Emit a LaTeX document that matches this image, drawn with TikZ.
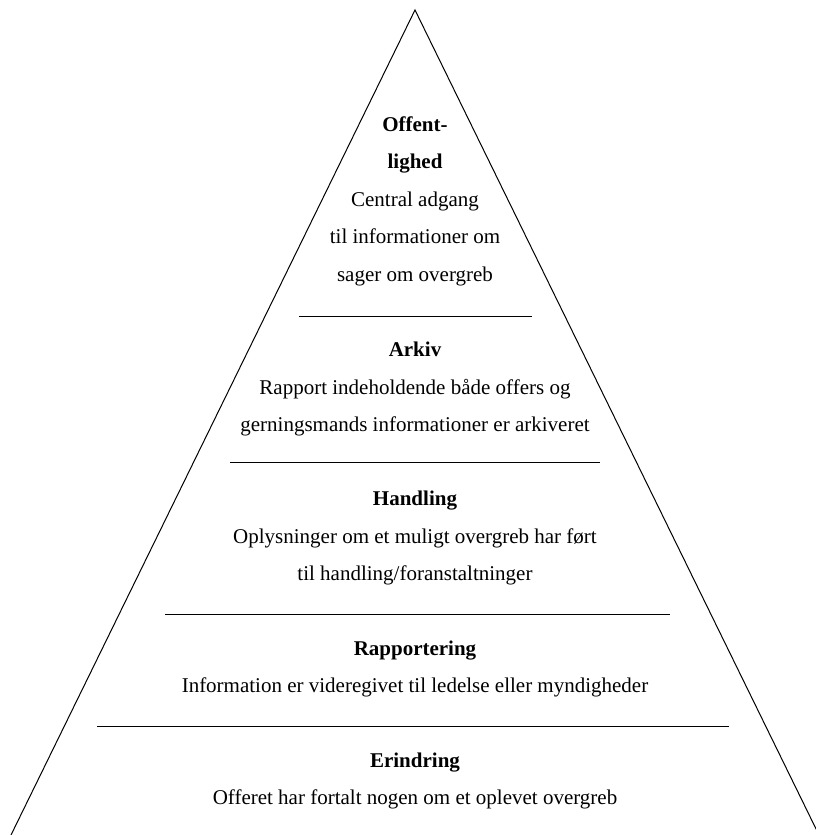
\documentclass[tikz,border=0pt]{standalone}
\usepackage{fontspec}
\setmainfont{Liberation Serif}

\begin{document}
\begin{tikzpicture}[x=1pt, y=-1pt, line width=1pt]
		\tikzstyle{every node}=[align=center,inner sep=0pt,font=\fontsize{21}{37.5}\selectfont]
		\useasboundingbox (0,0) rectangle (816,835);
		% pyramid
		\coordinate (top) at (415,10);
		\coordinate (bl) at (11,835);
		\coordinate (br) at (819,835);
		\draw (bl) -- (top) -- (br);

		% dividers
		\coordinate (d1a) at (299,316); \coordinate (d1b) at (532,316);
		\coordinate (d2a) at (230,462); \coordinate (d2b) at (600,462);
		\coordinate (d3a) at (165,614); \coordinate (d3b) at (670,614);
		\coordinate (d4a) at (97,726);  \coordinate (d4b) at (729,726);
		\draw (d1a) -- (d1b);
		\draw (d2a) -- (d2b);
		\draw (d3a) -- (d3b);
		\draw (d4a) -- (d4b);

		\draw (415,201) node (offentlighed) {\textbf{Offent-}\\\textbf{lighed}\\Central adgang\\til informationer om\\sager om overgreb};
		\draw (415,389) node (arkiv) {\textbf{Arkiv}\\Rapport indeholdende både offers og\\gerningsmands informationer er arkiveret};
		\draw (415,538) node (handling) {\textbf{Handling}\\Oplysninger om et muligt overgreb har ført\\til handling/foranstaltninger};
		\draw (415,669) node (rapportering) {\textbf{Rapportering}\\Information er videregivet til ledelse eller myndigheder};
		\draw (415,781) node (erindring) {\textbf{Erindring}\\Offeret har fortalt nogen om et oplevet overgreb};
	\end{tikzpicture}
\end{document}
